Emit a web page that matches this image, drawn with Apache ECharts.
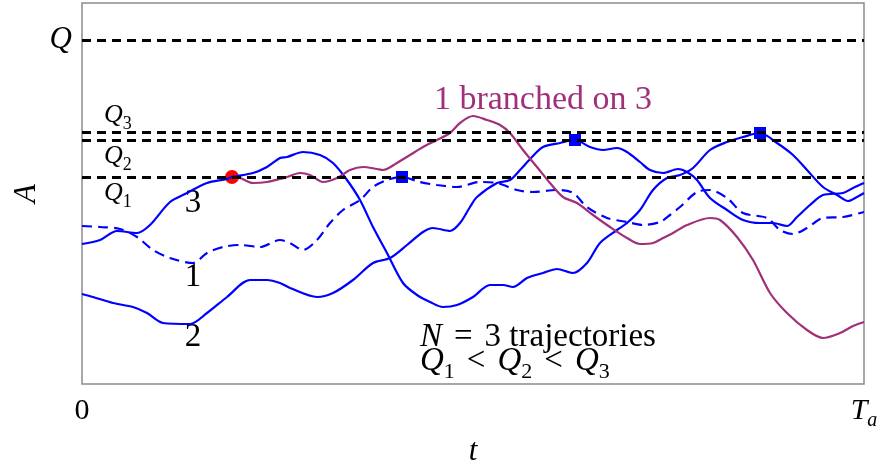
<!DOCTYPE html>
<html>
<head>
<meta charset="utf-8">
<script src="https://cdn.jsdelivr.net/npm/echarts@6/dist/echarts.min.js"></script>
<style>
  html, body { margin: 0; padding: 0; background: #fff; }
  #main { width: 880px; height: 468px; }
</style>
</head>
<body>
<div id="main"></div>
<script>
// t runs from 0 to T_a, A in arbitrary units
var tMax = 782
var aMax = 381
var tTicks = [0, 782]

// levels Q, Q3, Q2, Q1
var levelNames = ['Q', 'Q3', 'Q2', 'Q1']
var levelValues = [344, 251.5, 244, 207]

// trajectory 1 (dashed)
var traj1 = [[0,158],[18,157],[38,155],[55,147],[71,134],[88,126],[111,121],[125,131],[141,137],[158,139],
  [178,137],[198,144],[208,141],[221,134],[235,144],[248,161],[261,174],[278,184],[291,197],[305,204],
  [320,207],[338,202],[355,199],[375,197],[398,202],[415,201],[435,194],[451,192],[475,194],[491,191],
  [505,177],[525,166],[545,162],[561,159],[578,162],[588,169],[598,177],[615,192],[628,194],[645,186],
  [661,171],[685,166],[698,154],[711,150],[725,156],[741,166],[761,167],[782,172]]

// trajectory 2
var traj2 = [[0,90],[11,87],[31,81],[51,77],[65,71],[81,61],[108,60],[125,71],[145,87],[168,104],
  [185,104],[198,101],[208,96],[235,87],[251,91],[271,104],[291,121],[308,126],[325,139],[341,152],
  [351,156],[368,153],[378,161],[388,177],[395,187],[415,201],[428,204],[438,214],[450,227],[461,237],
  [478,241],[493,244],[508,237],[521,234],[535,236],[545,232],[558,222],[568,214],[581,211],[596,215],
  [605,212],[615,204],[628,186],[645,174],[661,164],[678,161],[691,161],[705,158],[715,167],[728,179],
  [741,189],[761,191],[771,196],[782,201]]

// trajectory 3
var traj3 = [[0,140],[18,144],[35,153],[55,151],[68,159],[88,182],[105,191],[125,201],[145,205],[150,207],
  [171,211],[185,217],[198,226],[205,227],[221,232],[238,229],[251,221],[265,204],[278,184],[291,157],
  [305,131],[321,101],[335,89],[348,82],[361,77],[375,79],[391,87],[408,99],[421,99],[431,97],
  [445,106],[461,111],[475,115],[491,111],[505,121],[518,141],[535,154],[545,161],[558,174],[571,194],
  [585,206],[598,209],[611,216],[628,234],[645,242],[661,247],[678,251],[695,241],[711,229],[725,214],
  [741,197],[755,189],[766,183],[775,187],[782,191]]

// 1 branched on 3
var branch = [[150,207],[158,206],[171,201],[185,202],[198,205],[205,207],[218,211],[228,209],[241,202],
  [255,206],[268,214],[281,217],[295,215],[301,214],[315,221],[328,229],[341,237],[355,244],[368,251],
  [378,261],[391,268],[405,264],[418,259],[428,251],[441,234],[455,217],[468,201],[481,187],[495,181],
  [511,169],[528,157],[545,146],[558,140],[571,141],[581,146],[591,151],[605,159],[628,166],[638,164],
  [655,147],[671,124],[688,91],[705,71],[725,54],[741,46],[758,51],[771,58],[782,62]]

var branchPoint = [[150,207]]
var levelHits = [[320,207],[493,244],[678,251]]

// curve numbers
var noteTexts = ['3', '1', '2']
var notePos = [[111,181],[111,107],[111,47]]

var serif = "'Liberation Serif', 'Times New Roman', serif"
var blue = '#0000ff'
var purple = '#a0307a'

var qRich = {
  Q: { fontFamily: serif, fontStyle: 'italic', fontSize: 31, color: '#000' },
  q: { fontFamily: serif, fontStyle: 'italic', fontSize: 26, color: '#000', padding: [0, 0, 5, 0], verticalAlign: 'bottom' },
  s: { fontFamily: serif, fontSize: 18, color: '#000', verticalAlign: 'bottom' }
}

var levelLabels = [
  { position: 'start', distance: 10, formatter: '{Q|Q}' },
  { position: 'insideStartTop', distance: [22, -1], formatter: '{q|Q}{s|3}' },
  { position: 'insideStartBottom', distance: [22, 3], formatter: '{q|Q}{s|2}' },
  { position: 'insideStartBottom', distance: [22, 3], formatter: '{q|Q}{s|1}' }
]

var markData = []
for (var i = 0; i < levelNames.length; i++) {
  markData.push({
    name: levelNames[i],
    yAxis: levelValues[i],
    label: Object.assign({ show: true, rich: qRich }, levelLabels[i])
  })
}

var notes = []
for (var j = 0; j < noteTexts.length; j++) {
  notes.push({ value: notePos[j], label: { formatter: noteTexts[j] } })
}
notes.push({ value: [461, 284], label: { formatter: '1 branched on 3', color: purple, fontSize: 34 } })
notes.push({ value: [338, 44], label: { position: 'right', distance: 0, formatter: '{i|N}{op|=}{t|3 trajectories}' } })
notes.push({ value: [338, 20], label: { position: 'right', distance: 0, formatter: '{i|Q}{s|1}{op|<}{i|Q}{s|2}{op|<}{i|Q}{s|3}' } })

var option = {
  animation: false,
  grid: {
    left: 82, right: 16, top: 3, bottom: 84,
    outerBoundsMode: 'none',
    show: true, borderColor: '#8c8c8c', borderWidth: 1.5
  },
  xAxis: {
    type: 'value', min: 0, max: tMax, interval: tMax,
    axisLine: { show: false }, axisTick: { show: false }, splitLine: { show: false },
    axisLabel: {
      margin: 12, showMinLabel: true, showMaxLabel: true,
      formatter: function (v) { return v === tTicks[0] ? '{n|0}' : '{i|T}{s|a}' },
      rich: {
        n: { fontFamily: serif, fontSize: 30, color: '#000' },
        i: { fontFamily: serif, fontStyle: 'italic', fontSize: 30, color: '#000', padding: [0, 0, 5, 0], verticalAlign: 'bottom' },
        s: { fontFamily: serif, fontStyle: 'italic', fontSize: 20, color: '#000', verticalAlign: 'bottom' }
      }
    },
    name: 't', nameLocation: 'middle', nameGap: 46,
    nameTextStyle: { fontFamily: serif, fontStyle: 'italic', fontSize: 31, color: '#000' }
  },
  yAxis: {
    type: 'value', min: 0, max: aMax,
    axisLine: { show: false }, axisTick: { show: false }, splitLine: { show: false },
    axisLabel: { show: false },
    name: 'A', nameLocation: 'middle', nameGap: 40, nameRotate: 90,
    nameTextStyle: { fontFamily: serif, fontStyle: 'italic', fontSize: 31, color: '#000' }
  },
  series: [
    {
      name: 'levels', type: 'line', data: [], silent: true,
      markLine: {
        silent: true, symbol: ['none', 'none'],
        lineStyle: { color: '#000', width: 2.8, type: [9, 6] },
        data: markData
      }
    },
    { name: '1', type: 'line', data: traj1, showSymbol: false, smooth: 0.3, lineStyle: { color: blue, width: 2.2, type: [10, 6] } },
    { name: '2', type: 'line', data: traj2, showSymbol: false, smooth: 0.3, lineStyle: { color: blue, width: 2.2 } },
    { name: '3', type: 'line', data: traj3, showSymbol: false, smooth: 0.3, lineStyle: { color: blue, width: 2.2 } },
    { name: 'branch', type: 'line', data: branch, showSymbol: false, smooth: 0.3, lineStyle: { color: purple, width: 2.2 } },
    { name: 'hits', type: 'scatter', data: levelHits, symbol: 'rect', symbolSize: 12, itemStyle: { color: blue, opacity: 1 } },
    { name: 'branchPoint', type: 'scatter', data: branchPoint, symbolSize: 14, itemStyle: { color: '#ff0000', opacity: 1 } },
    {
      name: 'notes', type: 'scatter', data: notes, symbolSize: 0, silent: true,
      itemStyle: { opacity: 1 },
      label: {
        show: true, position: 'inside', color: '#000',
        fontFamily: serif, fontSize: 33,
        rich: {
          i: { fontFamily: serif, fontStyle: 'italic', fontSize: 33, color: '#000', padding: [0, 0, 5, 0], verticalAlign: 'bottom' },
          s: { fontFamily: serif, fontSize: 22, color: '#000', verticalAlign: 'bottom' },
          op: { fontFamily: serif, fontSize: 33, color: '#000', padding: [0, 12, 5, 12], verticalAlign: 'bottom' },
          t: { fontFamily: serif, fontSize: 33, color: '#000', padding: [0, 0, 5, 0], verticalAlign: 'bottom' }
        }
      }
    }
  ]
}

var myChart = echarts.init(document.getElementById('main'))
myChart.setOption(option)
</script>
</body>
</html>
